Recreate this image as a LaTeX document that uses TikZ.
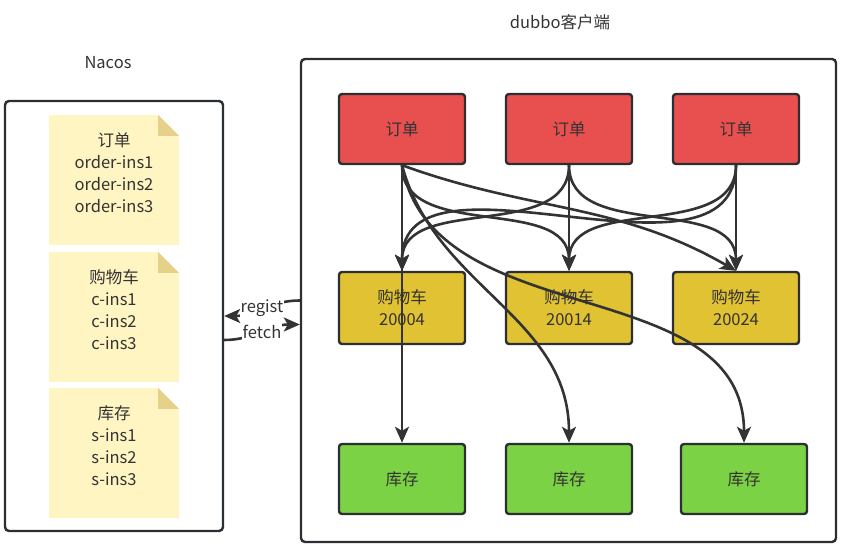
\documentclass[tikz,border=0pt]{standalone}
\usepackage{fontspec}
\newfontfamily\cjk{Noto Sans CJK SC}
\usetikzlibrary{arrows.meta}
\definecolor{ink}{HTML}{333333}
\definecolor{edge}{HTML}{2B2F33}
\definecolor{ordred}{HTML}{E85050}
\definecolor{cartyel}{HTML}{E0C232}
\definecolor{stockgrn}{HTML}{7BD244}
\definecolor{notebg}{HTML}{FFF5C2}
\definecolor{notefold}{HTML}{E6D18A}
\tikzset{
    frame/.style={draw=edge, line width=2.4pt, rounded corners=4pt},
    box/.style={draw=edge, line width=2.4pt, rounded corners=3pt, minimum width=126, minimum height=70, align=center},
    note/.style={fill=notebg, minimum width=130, minimum height=130, inner sep=0pt,
        path picture={
            \fill[white] (path picture bounding box.north east) -- ++(-21,0) -- ++(21,-21) -- cycle;
            \fill[notefold] ([xshift=-21]path picture bounding box.north east) -- ++(0,-21) -- ++(21,0) -- cycle;
        }},
    notetext/.style={anchor=north, align=center},
    link/.style={draw=ink, line width=2.6pt, -{Stealth[length=16pt,width=14pt,inset=4pt]}},
    tag/.style={fill=white, inner sep=1pt}
}
\begin{document}
\begin{tikzpicture}[x=1pt, y=1pt, font=\cjk\fontsize{16.5}{22}\selectfont, text=ink]
    \useasboundingbox (0,0) rectangle (847,552);
    \node[frame, minimum width=218, minimum height=430] (nacos) at (114,236) {};
    \node (nacostitle) at (108,489) {Nacos};
    \node[frame, minimum width=535, minimum height=483] (dubbo) at (568.5,251.5) {};
    \node (dubbotitle) at (560,530) {dubbo客户端};

    \node[note] (n1) at (114,372) {};
    \node[notetext] (n1t) at ([yshift=-14]n1.north) {订单\\order-ins1\\order-ins2\\order-ins3};
    \node[note] (n2) at (114,235) {};
    \node[notetext] (n2t) at ([yshift=-14]n2.north) {购物车\\c-ins1\\c-ins2\\c-ins3};
    \node[note] (n3) at (114,99) {};
    \node[notetext] (n3t) at ([yshift=-14]n3.north) {库存\\s-ins1\\s-ins2\\s-ins3};

    \foreach \i/\x in {1/402,2/569,3/736}
        \node[box, fill=ordred] (o\i) at (\x,423) {订单};
    \node[box, fill=cartyel, minimum height=72] (c1) at (402,244) {购物车\\20004};
    \node[box, fill=cartyel, minimum height=72] (c2) at (569,244) {购物车\\20014};
    \node[box, fill=cartyel, minimum height=72] (c3) at (736,244) {购物车\\20024};
    \foreach \i/\x in {1/402,2/569,3/744}
        \node[box, fill=stockgrn] (s\i) at (\x,73) {库存};

    \draw[link] (dubbo.west) to[out=180, in=0] node[tag] (reg) {regist} (nacos.east);
    \draw[link] ([yshift=-24]nacos.east) to[out=0, in=180] node[tag] (fet) {fetch} ([yshift=-24]dubbo.west);

    \draw[link] (o1.south) -- (c1.north);
    \draw[link] (o1.south) -- (s1.north);
    \draw[link] (o1.south) to[out=-90, in=90] (c2.north);
    \draw[link] (o1.south) to[out=-20, in=150] (c3.north);
    \draw[link] (o1.south) to[out=-75, in=90] (s2.north);
    \draw[link] (o1.south) to[out=-80, in=90] (s3.north);
    \draw[link] (o2.south) to[out=-90, in=90] (c1.north);
    \draw[link] (o2.south) -- (c2.north);
    \draw[link] (o2.south) to[out=-90, in=90] (c3.north);
    \draw[link] (o3.south) to[out=-90, in=90] (c1.north);
    \draw[link] (o3.south) to[out=-90, in=90] (c2.north);
    \draw[link] (o3.south) -- (c3.north);
\end{tikzpicture}
\end{document}
